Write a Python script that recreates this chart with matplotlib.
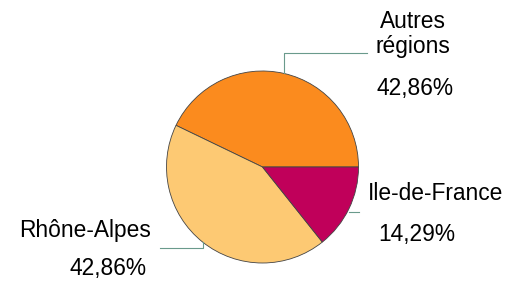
import numpy as np
import matplotlib.pyplot as plt

# données
regions = ['Autres\nrégions', 'Rhône-Alpes', 'Ile-de-France']
parts = [42.86, 42.86, 14.29]
couleurs = ['#FB8B1E', '#FDC973', '#C0005A']
pct_labels = ['42,86%', '42,86%', '14,29%']

plt.rcParams['font.family'] = ['Liberation Sans', 'DejaVu Sans']
fs = 16.4

fig = plt.figure(figsize=(5.22, 2.81), dpi=100)
ax = fig.add_axes([0, 0, 1, 1])

cx, cy, r = 262.5, 281 - 167, 96
wedges, _ = ax.pie(parts, colors=couleurs, startangle=0, counterclock=True,
                   center=(cx, cy), radius=r,
                   wedgeprops=dict(edgecolor='#444444', linewidth=0.6))

line_col = '#6A9A8C'
# points de départ des traits de rappel (milieu de chaque part)
mids = [np.deg2rad((w.theta1 + w.theta2) / 2) for w in wedges]
starts = [(cx + r * np.cos(a), cy + r * np.sin(a)) for a in mids]

# Autres régions
x0, y0 = starts[0]
ax.plot([x0, x0, 367], [y0, 281 - 53, 281 - 53], color=line_col, lw=0.8)
ax.text(413, 281 - 34, regions[0], ha='center', va='center', fontsize=fs,
        linespacing=1.1)
ax.text(415, 281 - 88, pct_labels[0], ha='center', va='center', fontsize=fs)

# Rhône-Alpes
x0, y0 = starts[1]
ax.plot([x0, x0, 160], [y0, 281 - 248, 281 - 248], color=line_col, lw=0.8)
ax.text(85.5, 281 - 230, regions[1], ha='center', va='center', fontsize=fs)
ax.text(108, 281 - 268, pct_labels[1], ha='center', va='center', fontsize=fs)

# Ile-de-France
x0, y0 = starts[2]
ax.plot([x0, 359], [281 - 212, 281 - 212], color=line_col, lw=0.8)
ax.text(435.5, 281 - 193, regions[2], ha='center', va='center', fontsize=fs)
ax.text(417, 281 - 235, pct_labels[2], ha='center', va='center', fontsize=fs)

ax.set_xlim(0, 522)
ax.set_ylim(0, 281)
ax.axis('off')

fig.savefig('out.png', dpi=100)
